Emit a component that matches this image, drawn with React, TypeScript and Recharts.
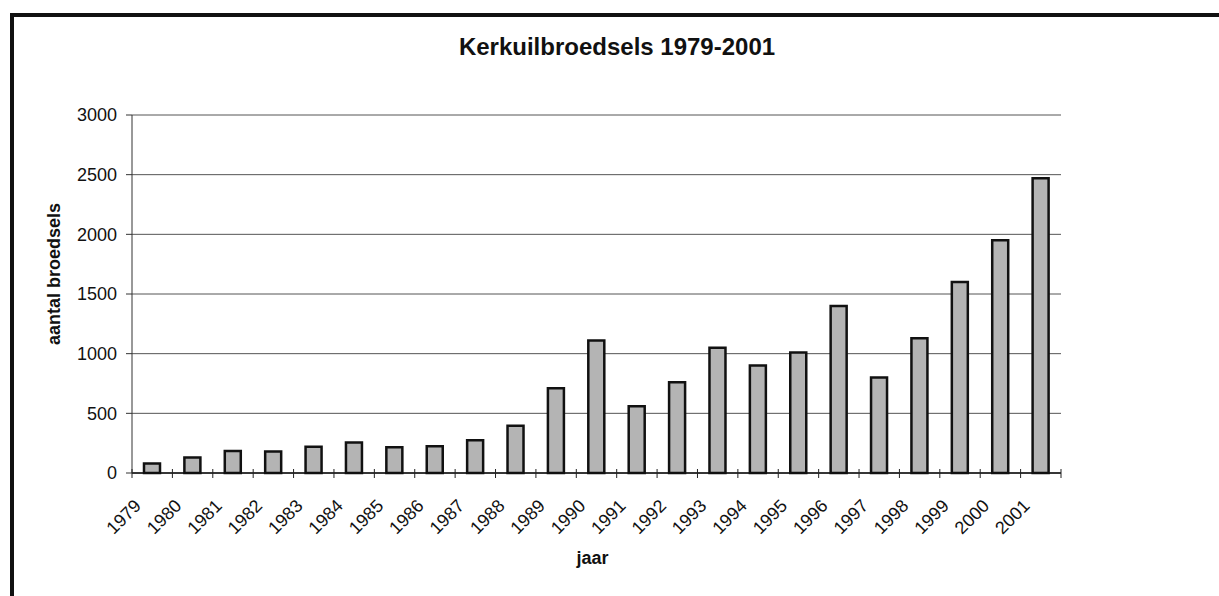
import { Bar, BarChart, CartesianGrid, Label, XAxis, YAxis } from "recharts";

const years = [
    "1979", "1980", "1981", "1982", "1983", "1984", "1985", "1986",
    "1987", "1988", "1989", "1990", "1991", "1992", "1993", "1994",
    "1995", "1996", "1997", "1998", "1999", "2000", "2001",
];
const broedsels = [
    80, 130, 185, 180, 220, 255, 215, 225, 275, 395, 710, 1110,
    560, 760, 1050, 900, 1010, 1400, 800, 1130, 1600, 1950, 2470,
];
const yTicks = [0, 500, 1000, 1500, 2000, 2500, 3000];

const data = years.map((jaar, i) => ({ jaar, aantal: broedsels[i] }));

const FONT = '"Liberation Sans", Arial, Helvetica, sans-serif';

// Excel style: tick marks sit between categories, labels turned 45 degrees
const YearTick = (props: any) => {
    const { x, y, payload, index } = props;
    const half = payload?.offset || 20.2;
    const tx = x - 10;
    const ty = y + 34;
    return (
        <g>
            <line x1={x - half} x2={x - half} y1={y - 4} y2={y + 5} stroke="#222" />
            {index === years.length - 1 && (
                <line x1={x + half} x2={x + half} y1={y - 4} y2={y + 5} stroke="#222" />
            )}
            <text
                x={tx}
                y={ty}
                textAnchor="end"
                transform={`rotate(-45, ${tx}, ${ty})`}
                fontSize={18}
                fill="#111"
                fontFamily={FONT}
            >
                {payload.value}
            </text>
        </g>
    );
};

const YTitle = ({ viewBox }: any) => {
    const x = viewBox.x + 60;
    const y = viewBox.y + viewBox.height / 2 - 20;
    return (
        <text
            x={x}
            y={y}
            textAnchor="middle"
            transform={`rotate(-90, ${x}, ${y})`}
            fontSize={18}
            fontWeight="bold"
            fill="#111"
            fontFamily={FONT}
        >
            aantal broedsels
        </text>
    );
};

const XTitle = ({ viewBox }: any) => (
    <text
        x={viewBox.x + viewBox.width / 2 - 4}
        y={564}
        textAnchor="middle"
        fontSize={18}
        fontWeight="bold"
        fill="#111"
        fontFamily={FONT}
    >
        jaar
    </text>
);

export default function App() {
    return (
        <div
            style={{
                position: "absolute",
                left: 0,
                top: 0,
                width: 1219,
                height: 596,
                overflow: "hidden",
                background: "#fff",
                fontFamily: FONT,
            }}
        >
            <div
                style={{
                    position: "absolute",
                    left: 10,
                    top: 13,
                    width: 1300,
                    height: 700,
                    border: "4px solid #111",
                }}
            />
            <div
                style={{
                    position: "absolute",
                    left: 367,
                    top: 35,
                    width: 500,
                    textAlign: "center",
                    fontSize: 24,
                    lineHeight: "24px",
                    fontWeight: "bold",
                    color: "#111",
                }}
            >
                Kerkuilbroedsels 1979-2001
            </div>
            <div style={{ position: "absolute", left: 0, top: 0 }}>
                <BarChart
                    width={1219}
                    height={596}
                    data={data}
                    margin={{ top: 115, right: 158, bottom: 23, left: 0 }}
                >
                    <CartesianGrid vertical={false} stroke="#555" />
                    <XAxis
                        dataKey="jaar"
                        height={100}
                        interval={0}
                        tickSize={0}
                        tickMargin={0}
                        tickLine={false}
                        axisLine={{ stroke: "#111", strokeWidth: 1.5 }}
                        tick={<YearTick />}
                    >
                        <Label content={<XTitle />} />
                    </XAxis>
                    <YAxis
                        width={132}
                        domain={[0, 3000]}
                        ticks={yTicks}
                        interval={0}
                        tickSize={6}
                        tickMargin={9}
                        axisLine={{ stroke: "#333" }}
                        tickLine={{ stroke: "#333" }}
                        tick={{ fontSize: 18, fill: "#111", fontFamily: FONT }}
                    >
                        <Label content={<YTitle />} />
                    </YAxis>
                    <YAxis
                        yAxisId="rand"
                        orientation="right"
                        width={0}
                        tick={false}
                        tickLine={false}
                        axisLine={{ stroke: "#777" }}
                    />
                    <Bar
                        dataKey="aantal"
                        barSize={16}
                        fill="#b4b4b4"
                        stroke="#111"
                        strokeWidth={2.5}
                        isAnimationActive={false}
                    />
                </BarChart>
            </div>
        </div>
    );
}
